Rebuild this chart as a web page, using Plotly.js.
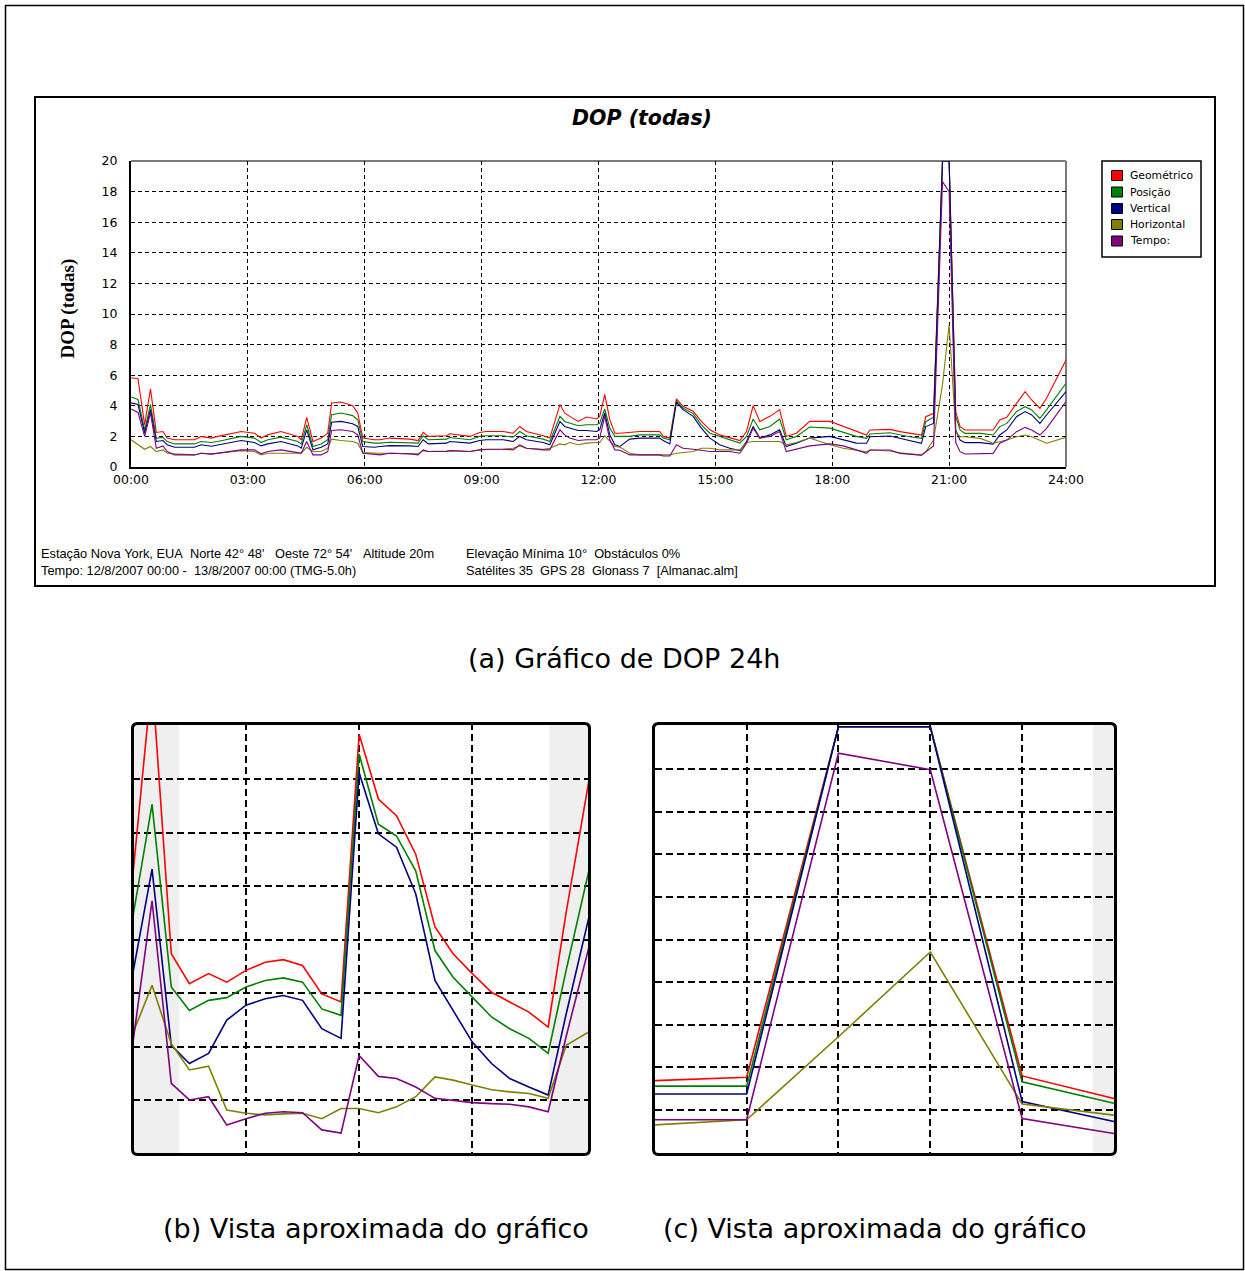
<!DOCTYPE html>
<html><head><meta charset="utf-8">
<script src="https://cdn.plot.ly/plotly-3.0.1.min.js"></script>
<style>html,body{margin:0;padding:0;background:#fff}#chart{width:1245px;height:1271px}</style>
</head><body><div id="chart"></div>
<script>
// ---------- DATA ----------
const seriesNames = ['Geométrico','Posição','Vertical','Horizontal','Tempo:'];
const tickHours = [0,3,6,9,12,15,18,21,24];
const tickLabels = ['00:00','03:00','06:00','09:00','12:00','15:00','18:00','21:00','24:00'];

// (a) 24h chart, x in hours
const hours = [0,0.18,0.35,0.5,0.65,0.82,0.93,1.12,1.63,1.8,2.06,2.23,2.83,3.17,3.34,3.51,3.85,4.28,4.37,4.51,4.67,4.88,5.05,5.15,5.39,5.69,5.82,5.95,6.25,
6.39,6.64,7.16,7.37,7.5,7.63,8.1,8.18,8.7,8.95,9.12,9.55,9.81,9.98,10.15,10.58,10.75,11.01,11.13,11.26,11.48,11.69,11.95,12.03,12.16,12.29,12.42,
12.55,12.8,13.06,13.57,13.66,13.83,14.0,14.17,14.43,14.64,14.86,15.11,15.37,15.63,15.8,15.97,16.14,16.4,16.65,16.82,17.08,17.42,17.94,18.28,18.62,
18.88,18.97,19.48,19.74,19.99,20.29,20.4,20.6,20.83,21.0,21.17,21.28,21.41,21.8,22.13,22.3,22.48,22.73,22.95,23.12,23.33,23.5,24.0];

const geometrico = [5.83,5.77,2.76,5.11,2.26,2.32,1.89,1.78,1.78,2.0,1.89,2.0,2.32,2.21,1.89,2.1,2.32,2.0,1.78,3.25,1.67,1.89,2.21,4.19,4.25,4.01,3.53,1.89,1.78,
1.78,1.89,1.82,1.73,2.26,2.0,2.04,2.17,2.0,2.26,2.32,2.32,2.21,2.65,2.32,2.04,1.89,4.08,3.53,3.31,2.98,3.27,3.14,3.31,4.74,3.09,2.21,
2.21,2.26,2.32,2.32,2.0,1.89,4.45,3.97,3.64,2.98,2.43,2.1,1.89,1.73,2.32,4.01,2.98,3.31,3.75,2.0,2.21,2.98,2.98,2.65,2.32,
2.09,2.42,2.46,2.31,2.2,2.09,3.29,3.51,20,20,3.6,2.64,2.42,2.42,2.42,3.07,3.25,4.16,4.92,4.38,3.83,4.49,6.99];

const posicao = [4.58,4.41,2.43,4.08,1.89,1.93,1.67,1.51,1.51,1.67,1.6,1.67,2.0,1.89,1.6,1.78,1.95,1.67,1.51,2.76,1.34,1.51,1.78,3.42,3.53,3.36,3.09,1.67,1.56,
1.56,1.62,1.6,1.56,2.04,1.78,1.82,1.93,1.78,2.0,2.04,2.04,1.95,2.32,2.04,1.82,1.67,3.31,2.98,2.87,2.7,2.76,2.76,2.87,3.79,2.54,2.0,
2.0,2.0,2.1,2.1,1.89,1.78,4.3,3.86,3.49,2.76,2.21,2.0,1.78,1.56,2.0,3.14,2.43,2.65,3.14,1.78,2.0,2.61,2.54,2.26,2.0,
1.87,2.16,2.24,2.09,1.98,1.87,2.96,3.25,20,20,3.3,2.42,2.2,2.2,2.09,2.64,2.85,3.62,3.94,3.73,3.18,3.73,5.47];

const vertical = [4.19,4.08,2.21,3.75,1.67,1.73,1.45,1.29,1.29,1.45,1.36,1.45,1.73,1.6,1.38,1.51,1.67,1.38,1.23,2.43,1.12,1.29,1.51,2.92,2.98,2.83,2.65,1.34,1.29,
1.34,1.4,1.38,1.34,1.78,1.51,1.56,1.67,1.56,1.73,1.78,1.78,1.67,2.0,1.78,1.6,1.45,2.98,2.65,2.54,2.39,2.39,2.32,2.43,3.53,2.1,1.45,
1.34,1.82,1.89,1.89,1.73,1.51,4.23,3.75,3.31,2.54,1.89,1.45,1.23,1.07,1.67,2.65,1.89,2.1,2.43,1.34,1.56,1.89,2.0,1.78,1.56,
1.55,1.98,2.03,1.87,1.76,1.55,2.64,2.85,20,20,2.4,1.76,1.59,1.59,1.5,2.09,2.42,3.29,3.62,3.4,2.85,3.4,4.92];

const horizontal = [1.78,1.45,1.16,1.34,1.01,1.12,0.9,0.86,0.79,0.9,0.86,0.9,1.07,1.01,0.79,0.9,0.9,0.9,0.9,1.29,1.01,1.01,1.23,1.82,1.73,1.67,1.56,0.94,0.9,
0.9,0.9,0.9,0.86,1.07,1.01,1.05,1.07,1.01,1.12,1.14,1.16,1.23,1.38,1.23,1.16,1.23,1.51,1.45,1.6,1.45,1.56,1.6,1.6,2.04,1.67,1.34,
1.3,0.9,0.79,0.79,0.79,0.79,0.9,0.95,1.01,1.23,1.23,1.12,1.12,1.12,1.6,1.67,1.67,1.67,1.67,1.45,1.6,1.89,1.45,1.23,1.12,
1.0,1.11,1.05,0.92,0.85,0.78,1.0,1.76,5.4,9.3,2.3,1.98,1.98,1.87,1.55,1.66,1.76,1.98,2.09,1.98,1.76,1.55,1.94];

const tempo = [3.79,3.57,2.0,3.53,1.23,1.38,1.01,0.79,0.79,0.9,0.84,0.9,1.12,1.12,0.86,1.01,1.12,0.94,0.9,1.67,0.79,0.79,1.01,2.39,2.43,2.32,2.1,0.9,0.83,
0.79,0.9,0.86,0.79,1.12,1.01,1.01,1.07,1.01,1.12,1.16,1.16,1.12,1.45,1.23,1.12,1.12,2.43,2.1,1.89,1.73,1.78,1.78,1.89,3.31,1.78,1.12,
1.1,0.79,0.79,0.79,0.72,0.72,1.45,1.23,1.16,1.08,1.01,1.01,1.01,0.9,1.56,2.54,1.89,2.0,2.32,1.01,1.16,1.38,1.51,1.38,1.12,
0.89,1.11,1.11,0.89,0.85,0.78,1.0,1.37,18.65,18.0,1.6,1.0,0.85,0.85,0.89,1.55,1.76,2.31,2.59,2.42,2.09,2.53,4.27];

// (b) close-up 12:00-16:00 (own vertical scale)
const hoursB = [12.0,12.17,12.34,12.5,12.67,12.83,13.0,13.17,13.33,13.5,13.67,13.84,14.0,14.17,14.33,14.5,14.67,14.83,15.0,15.17,15.33,15.5,15.67,15.83,16.03];
const geoB  = [5.2,8.9,3.74,3.18,3.37,3.21,3.43,3.58,3.63,3.52,2.99,2.84,7.84,6.63,6.32,5.6,4.24,3.74,3.37,3.02,2.84,2.65,2.37,4.52,6.97];
const posB  = [4.42,6.53,3.12,2.68,2.87,2.92,3.12,3.24,3.29,3.21,2.71,2.59,7.47,6.16,5.94,5.29,3.8,3.3,2.93,2.56,2.34,2.16,1.88,3.44,5.29];
const verB  = [3.37,5.32,2.03,1.69,1.88,2.5,2.78,2.9,2.96,2.87,2.34,2.16,7.12,5.98,5.73,4.86,3.24,2.68,2.09,1.69,1.41,1.25,1.1,2.62,4.42];
const horB  = [2.25,3.15,2.06,1.57,1.64,0.82,0.76,0.73,0.75,0.76,0.66,0.85,0.85,0.77,0.88,1.07,1.44,1.38,1.29,1.2,1.16,1.13,1.04,2.03,2.28];
const temB  = [2.06,4.73,1.32,1.01,1.07,0.54,0.66,0.76,0.79,0.77,0.45,0.39,1.84,1.45,1.41,1.25,1.04,1.0,0.96,0.94,0.93,0.88,0.79,2.2,3.86];

// (c) close-up 20:30-21:20
const hoursC = [20.5,20.6667,20.8333,21.0,21.1667,21.3333];
const geoC = [3.38,3.54,20,20,3.6,2.54];
const posC = [3.12,3.12,20,20,3.32,2.32];
const verC = [2.75,2.75,20,20,2.4,1.46];
const horC = [1.3,1.54,5.44,9.42,2.28,1.76];
const temC = [1.54,1.54,18.76,17.98,1.6,0.9];

// ---------- STYLE / LAYOUT ----------
const W=1245, H=1271;
const px = x => x/W, py = y => 1 - y/H;
const colors = ['#ff0000','#008000','#000080','#808000','#800080'];
const mainY = [geometrico,posicao,vertical,horizontal,tempo];
const bY = [geoB,posB,verB,horB,temB];
const cY = [geoC,posC,verC,horC,temC];

const traces = [];
mainY.forEach((ys,i)=>traces.push({x:hours,y:ys,name:seriesNames[i],type:'scatter',mode:'lines',
  line:{color:colors[i],width:1.1},xaxis:'x',yaxis:'y',showlegend:false,hoverinfo:'skip'}));
bY.forEach((ys,i)=>traces.push({x:hoursB,y:ys,name:seriesNames[i],type:'scatter',mode:'lines',
  line:{color:colors[i],width:1.6},xaxis:'x2',yaxis:'y2',showlegend:false,hoverinfo:'skip'}));
cY.forEach((ys,i)=>traces.push({x:hoursC,y:ys,name:seriesNames[i],type:'scatter',mode:'lines',
  line:{color:colors[i],width:1.6},xaxis:'x3',yaxis:'y3',showlegend:false,hoverinfo:'skip'}));

const tickFont = {family:'DejaVu Sans', size:12.5, color:'#000'};
const hiddenAx = {showticklabels:false, ticks:'', zeroline:false, showline:false, fixedrange:true,
  showgrid:true, gridcolor:'#000', gridwidth:2, griddash:'7px,4px'};

function rr(x0,y0,x1,y1,r){
  const X=px, Y=py;
  return `M ${X(x0+r)},${Y(y0)} L ${X(x1-r)},${Y(y0)} Q ${X(x1)},${Y(y0)} ${X(x1)},${Y(y0+r)} `+
         `L ${X(x1)},${Y(y1-r)} Q ${X(x1)},${Y(y1)} ${X(x1-r)},${Y(y1)} `+
         `L ${X(x0+r)},${Y(y1)} Q ${X(x0)},${Y(y1)} ${X(x0)},${Y(y1-r)} `+
         `L ${X(x0)},${Y(y0+r)} Q ${X(x0)},${Y(y0)} ${X(x0+r)},${Y(y0)} Z`;
}
function prect(x0,y0,x1,y1,line,fill,layer){
  return {type:'rect',xref:'paper',yref:'paper',x0:px(x0),x1:px(x1),y0:py(y1),y1:py(y0),
    line:line,fillcolor:fill||'rgba(0,0,0,0)',layer:layer||'above'};
}

const shapes = [
  prect(5.5,5.5,1243.5,1269.5,{color:'#000',width:1.5}),
  prect(35,97,1215,586,{color:'#000',width:2}),
  // top / right frame of main plot
  {type:'line',xref:'paper',yref:'paper',x0:px(131),x1:px(1066),y0:py(161),y1:py(161),line:{color:'#7a7a7a',width:2},layer:'below'},
  {type:'line',xref:'paper',yref:'paper',x0:px(1066),x1:px(1066),y0:py(161),y1:py(467),line:{color:'#7a7a7a',width:2},layer:'below'},
  // legend box
  prect(1102,161,1201,257,{color:'#000',width:1.5}),
  // shaded bands in close-ups
  {type:'rect',xref:'x2',yref:'y2 domain',x0:12,x1:12.41,y0:0,y1:1,fillcolor:'#efefef',line:{width:0},layer:'below'},
  {type:'rect',xref:'x2',yref:'y2 domain',x0:15.68,x1:16.04,y0:0,y1:1,fillcolor:'#efefef',line:{width:0},layer:'below'},
  {type:'rect',xref:'x3',yref:'y3 domain',x0:21.295,x1:21.34,y0:0,y1:1,fillcolor:'#efefef',line:{width:0},layer:'below'},
  // close-up frames
  {type:'path',xref:'paper',yref:'paper',path:rr(132.5,723.5,589.5,1154.5,5),line:{color:'#000',width:3},layer:'above'},
  {type:'path',xref:'paper',yref:'paper',path:rr(653.5,723.5,1115.5,1154.5,5),line:{color:'#000',width:3},layer:'above'}
];

const legY = [175.5,192,208.5,224.5,241];
const annotations = [];
seriesNames.forEach((n,i)=>{
  shapes.push(prect(1111.5,legY[i]-5,1122.5,legY[i]+5,{color:'#000',width:1},colors[i]));
  annotations.push({xref:'paper',yref:'paper',x:px(1128),y:py(legY[i]),xanchor:'left',yanchor:'middle',
    showarrow:false,text:n,font:{family:'DejaVu Sans',size:10.8,color:'#000'}});
});

const nb = s => s.replace(/ /g,'\u00a0');
const footFont = {family:'Liberation Sans', size:12.8, color:'#000'};
[[39,554,"Estação Nova York, EUA  Norte 42° 48'   Oeste 72° 54'   Altitude 20m"],
 [464,554,"Elevação Mínima 10°  Obstáculos 0%"],
 [39,570,"Tempo: 12/8/2007 00:00 -  13/8/2007 00:00 (TMG-5.0h)"],
 [464,570,"Satélites 35  GPS 28  Glonass 7  [Almanac.alm]"]].forEach(t=>{
  annotations.push({xref:'paper',yref:'paper',x:px(t[0]),y:py(t[1]),xanchor:'left',yanchor:'middle',
    showarrow:false,text:nb(t[2]),font:footFont});
});
annotations.push({xref:'paper',yref:'paper',x:px(68),y:py(308.5),xanchor:'center',yanchor:'middle',textangle:-90,
  showarrow:false,text:'DOP (todas)',font:{family:'Liberation Serif',size:19,weight:'bold',color:'#000'}});
const capFont = {family:'DejaVu Sans',size:27,color:'#000'};
[[624,658,'(a) Gráfico de DOP 24h'],[375.5,1228,'(b) Vista aproximada do gráfico'],[875,1228,'(c) Vista aproximada do gráfico']].forEach(t=>{
  annotations.push({xref:'paper',yref:'paper',x:px(t[0]),y:py(t[1]),xanchor:'center',yanchor:'middle',
    showarrow:false,text:t[2],font:capFont});
});

const layout = {
  width:W, height:H, margin:{l:0,r:0,t:0,b:0,pad:0},
  paper_bgcolor:'#fff', plot_bgcolor:'rgba(0,0,0,0)', showlegend:false, hovermode:false,
  title:{text:'DOP (todas)', x:px(642), xanchor:'center', xref:'paper', y:py(118), yanchor:'middle', yref:'paper',
    font:{family:'DejaVu Sans', size:20.5, weight:'bold', style:'italic', color:'#000'}},
  xaxis:{domain:[px(131),px(1066)], range:[0,24], tickvals:tickHours, ticktext:tickLabels, tickfont:tickFont,
    showgrid:true, gridcolor:'#000', gridwidth:1, griddash:'4px,3px', zeroline:false,
    showline:true, linecolor:'#000', linewidth:2, ticks:'', fixedrange:true, anchor:'y'},
  yaxis:{domain:[py(467),py(161)], range:[0,20], dtick:2, tick0:0, tickfont:tickFont,
    showgrid:true, gridcolor:'#000', gridwidth:1, griddash:'4px,3px', zeroline:false,
    showline:true, linecolor:'#000', linewidth:2, ticks:'outside', ticklen:9, tickcolor:'rgba(0,0,0,0)', fixedrange:true, anchor:'x'},
  xaxis2:Object.assign({domain:[px(132.8),px(590)], range:[12,16.04], tickvals:[13,14,15], anchor:'y2'}, hiddenAx),
  yaxis2:Object.assign({domain:[py(1154),py(723)], range:[0,8.05], tickvals:[1,2,3,4,5,6,7], anchor:'x2'}, hiddenAx),
  xaxis3:Object.assign({domain:[px(654.8),px(1116.7)], range:[20.5,20.5+5.03/6], tickvals:[20.6667,20.8333,21.0,21.1667], anchor:'y3'}, hiddenAx),
  yaxis3:Object.assign({domain:[py(1152.6),py(723.3)], range:[0,20.16], tickvals:[2,4,6,8,10,12,14,16,18], anchor:'x3'}, hiddenAx),
  shapes:shapes, annotations:annotations
};
Plotly.newPlot('chart', traces, layout, {displayModeBar:false, staticPlot:true});
</script></body></html>
